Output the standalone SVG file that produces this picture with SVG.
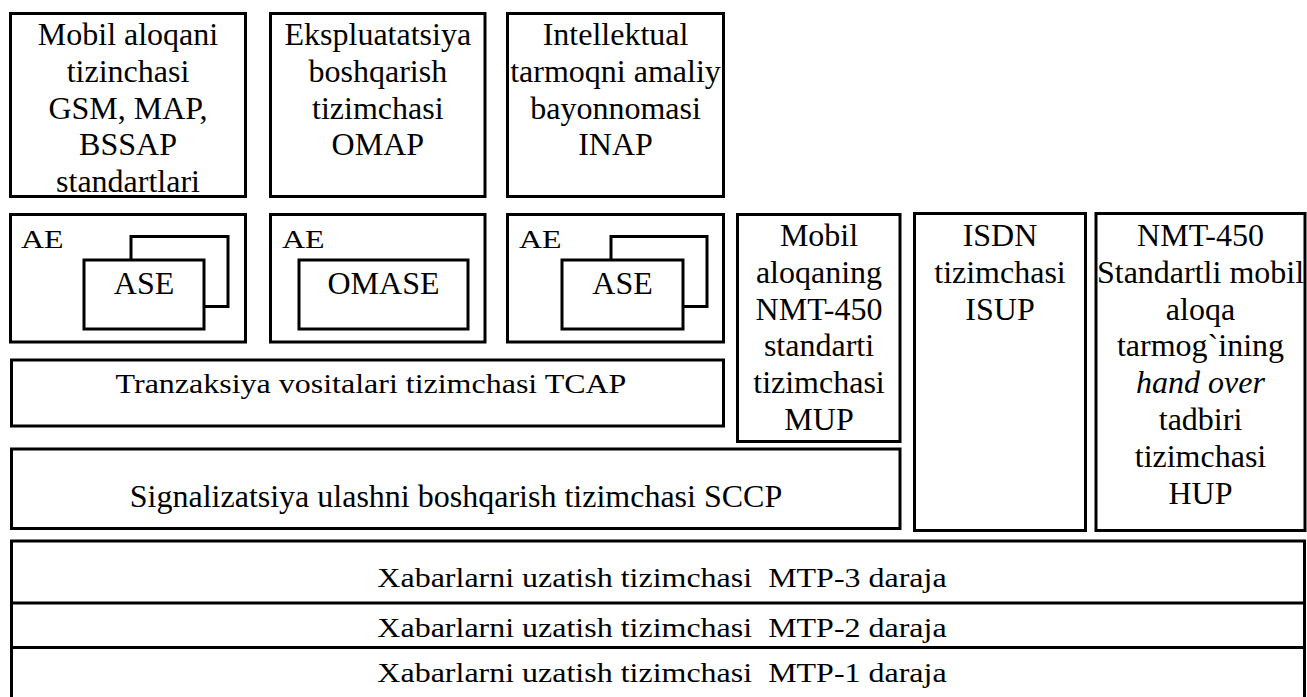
<svg xmlns="http://www.w3.org/2000/svg" width="1307" height="697" viewBox="0 0 1307 697">
<style>
rect{fill:#fff;stroke:#000;stroke-width:3}
line{stroke:#000;stroke-width:3}
text{font-family:'Liberation Serif','Times New Roman',serif;font-size:32px;fill:#000}
.c{text-anchor:middle}
</style>
<rect x="0" y="0" width="1307" height="697" style="stroke:none"/>
<g id="map">
<rect x="10.5" y="13.5" width="235" height="183"/>
<text class="c" x="128" y="45">Mobil aloqani</text>
<text class="c" x="128" y="81.8">tizinchasi</text>
<text class="c" x="128" y="118.6">GSM, MAP,</text>
<text class="c" x="128" y="155.4">BSSAP</text>
<text class="c" x="128" y="192.2">standartlari</text>
</g>
<g id="omap">
<rect x="270.5" y="13.5" width="214.5" height="183"/>
<text class="c" x="377.8" y="45">Ekspluatatsiya</text>
<text class="c" x="377.8" y="81.8">boshqarish</text>
<text class="c" x="377.8" y="118.6">tizimchasi</text>
<text class="c" x="377.8" y="155.4">OMAP</text>
</g>
<g id="inap">
<rect x="507.5" y="13.5" width="216" height="183"/>
<text class="c" x="615.5" y="45">Intellektual</text>
<text class="c" x="615.5" y="81.8">tarmoqni amaliy</text>
<text class="c" x="615.5" y="118.6">bayonnomasi</text>
<text class="c" x="615.5" y="155.4">INAP</text>
</g>
<g id="ae1">
<rect x="10.5" y="214.5" width="235" height="127.5"/>
<text transform="translate(21,248) scale(1,0.76)">AE</text>
<rect x="131" y="236.5" width="97" height="70"/>
<rect x="84" y="260" width="120" height="69"/>
<text class="c" x="144" y="294">ASE</text>
</g>
<g id="ae2">
<rect x="270.5" y="214.5" width="214.5" height="127.5"/>
<text transform="translate(282,248) scale(1,0.76)">AE</text>
<rect x="299" y="260" width="169" height="69"/>
<text class="c" x="383.5" y="294">OMASE</text>
</g>
<g id="ae3">
<rect x="507.5" y="214.5" width="216" height="127.5"/>
<text transform="translate(519,248) scale(1,0.76)">AE</text>
<rect x="611" y="236.5" width="96" height="70"/>
<rect x="562" y="260" width="121" height="69"/>
<text class="c" x="622.5" y="294">ASE</text>
</g>
<g id="tcap">
<rect x="11.5" y="360" width="712" height="66"/>
<text class="c" transform="translate(371,393) scale(1,0.86)">Tranzaksiya vositalari tizimchasi TCAP</text>
</g>
<g id="sccp">
<rect x="11.5" y="449" width="888.5" height="79.5"/>
<text class="c" x="456" y="507">Signalizatsiya ulashni boshqarish tizimchasi SCCP</text>
</g>
<g id="mup">
<rect x="737.5" y="214.5" width="162.5" height="227"/>
<text class="c" x="819" y="246">Mobil</text>
<text class="c" x="819" y="282.8">aloqaning</text>
<text class="c" x="819" y="319.6">NMT-450</text>
<text class="c" x="819" y="356.4">standarti</text>
<text class="c" x="819" y="393.2">tizimchasi</text>
<text class="c" x="819" y="430">MUP</text>
</g>
<g id="isup">
<rect x="914.5" y="213.5" width="171" height="317"/>
<text class="c" x="1000" y="246">ISDN</text>
<text class="c" x="1000" y="282.8">tizimchasi</text>
<text class="c" x="1000" y="319.6">ISUP</text>
</g>
<g id="hup">
<rect x="1096" y="213.5" width="209" height="317"/>
<text class="c" x="1200.5" y="246">NMT-450</text>
<text class="c" x="1200.5" y="282.8">Standartli mobil</text>
<text class="c" x="1200.5" y="319.6">aloqa</text>
<text class="c" x="1200.5" y="356.4">tarmog`ining</text>
<text class="c" x="1200.5" y="393.2" font-style="italic">hand over</text>
<text class="c" x="1200.5" y="430">tadbiri</text>
<text class="c" x="1200.5" y="466.8">tizimchasi</text>
<text class="c" x="1200.5" y="503.6">HUP</text>
</g>
<g id="mtp">
<rect x="11.5" y="541" width="1293" height="200"/>
<line x1="11.5" y1="603" x2="1304.5" y2="603"/>
<line x1="11.5" y1="647.5" x2="1304.5" y2="647.5"/>
<text class="c" transform="translate(662,587) scale(1,0.86)">Xabarlarni uzatish tizimchasi &#160;MTP-3 daraja</text>
<text class="c" transform="translate(662,637) scale(1,0.86)">Xabarlarni uzatish tizimchasi &#160;MTP-2 daraja</text>
<text class="c" transform="translate(662,682) scale(1,0.86)">Xabarlarni uzatish tizimchasi &#160;MTP-1 daraja</text>
</g>
<g id="connectors"></g>
</svg>
